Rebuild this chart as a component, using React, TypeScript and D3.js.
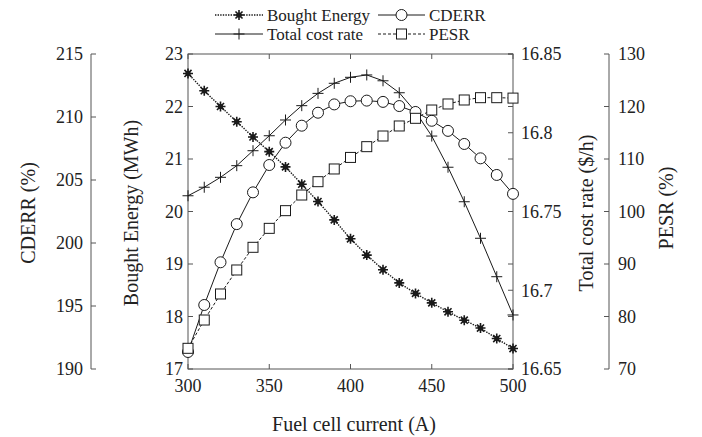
import React from 'react';
import * as d3 from 'd3';

const current = [300, 310, 320, 330, 340, 350, 360, 370, 380, 390, 400, 410, 420, 430, 440, 450, 460, 470, 480, 490, 500];
const boughtEnergy = [22.63, 22.3, 22.0, 21.71, 21.42, 21.14, 20.85, 20.52, 20.19, 19.84, 19.48, 19.17, 18.89, 18.64, 18.44, 18.26, 18.09, 17.93, 17.78, 17.58, 17.39];
const cderr = [191.35, 195.08, 198.47, 201.5, 204.02, 206.19, 207.96, 209.31, 210.34, 211.0, 211.25, 211.3, 211.2, 210.87, 210.4, 209.7, 208.9, 207.86, 206.72, 205.4, 203.9];
const costRate = [16.76, 16.7654, 16.7717, 16.7791, 16.7886, 16.7981, 16.8081, 16.8172, 16.825, 16.8314, 16.8352, 16.8367, 16.833, 16.8254, 16.8134, 16.7979, 16.7781, 16.7562, 16.733, 16.7086, 16.6843];
const pesr = [73.94, 79.33, 84.29, 88.86, 93.18, 96.79, 100.16, 103.14, 105.68, 108.1, 110.3, 112.35, 114.38, 116.29, 117.75, 119.33, 120.48, 121.24, 121.68, 121.68, 121.6];

const xTicks = [300, 350, 400, 450, 500];
const energyTicks = [17, 18, 19, 20, 21, 22, 23];
const cderrTicks = [190, 195, 200, 205, 210, 215];
const costTicks = [16.65, 16.7, 16.75, 16.8, 16.85];
const pesrTicks = [70, 80, 90, 100, 110, 120, 130];

const W = 702, H = 437;
const L = 188, R = 513, T = 54, B = 369;
const CDERR_X = 91, PESR_X = 609;
const TICK = 5;
const FONT = "'Liberation Serif', 'Times New Roman', serif";
const AX = '#555';
const TXT = '#222';
const LN = '#1a1a1a';
const TICK_FS = 18;

const x = d3.scaleLinear().domain([300, 500]).range([L, R]);
const yE = d3.scaleLinear().domain([17, 23]).range([B, T]);
const yC = d3.scaleLinear().domain([190, 215]).range([B, T]);
const yR = d3.scaleLinear().domain([16.65, 16.85]).range([B, T]);
const yP = d3.scaleLinear().domain([70, 130]).range([B, T]);

function Star({ cx, cy }: { cx: number; cy: number }) {
  const r = 5;
  const d = [0, 45, 90, 135].map((a) => {
    const rad = (a * Math.PI) / 180;
    const dx = Math.cos(rad) * r, dy = Math.sin(rad) * r;
    return `M${cx - dx},${cy - dy}L${cx + dx},${cy + dy}`;
  }).join('');
  return (
    <g>
      <path d={d} stroke={LN} strokeWidth={1.6} />
      <circle cx={cx} cy={cy} r={2.6} fill={LN} />
    </g>
  );
}
function Plus({ cx, cy }: { cx: number; cy: number }) {
  const r = 5.5;
  return <path d={`M${cx - r},${cy}L${cx + r},${cy}M${cx},${cy - r}L${cx},${cy + r}`} stroke={LN} strokeWidth={1} />;
}
function Circ({ cx, cy }: { cx: number; cy: number }) {
  return <circle cx={cx} cy={cy} r={5.5} fill="white" stroke={LN} strokeWidth={1} />;
}
function Sq({ cx, cy }: { cx: number; cy: number }) {
  return <rect x={cx - 5} y={cy - 5} width={10} height={10} fill="white" stroke={LN} strokeWidth={1} />;
}

const txtStyle = { fontFamily: FONT };

export default function App() {
  const lineE = d3.line<number>().x((_, i) => x(current[i])).y((d) => yE(d));
  const lineC = d3.line<number>().x((_, i) => x(current[i])).y((d) => yC(d));
  const lineR = d3.line<number>().x((_, i) => x(current[i])).y((d) => yR(d));
  const lineP = d3.line<number>().x((_, i) => x(current[i])).y((d) => yP(d));
  const fmtCost = (v: number) => String(+v.toFixed(2));

  const legendRows = [
    { y: 15, items: [
      { x0: 215, x1: 263, label: 'Bought Energy', kind: 'E' },
      { x0: 378, x1: 425, label: 'CDERR', kind: 'C' },
    ] },
    { y: 34, items: [
      { x0: 215, x1: 263, label: 'Total cost rate', kind: 'R' },
      { x0: 378, x1: 425, label: 'PESR', kind: 'P' },
    ] },
  ];

  const styleFor = (k: string) => {
    if (k === 'E') return { strokeWidth: 1.4, strokeDasharray: '1.4 1.2' };
    if (k === 'P') return { strokeWidth: 1, strokeDasharray: '3 2' };
    return { strokeWidth: 1, strokeDasharray: undefined };
  };
  const marker = (k: string, cx: number, cy: number, key?: string | number) => {
    if (k === 'E') return <Star key={key} cx={cx} cy={cy} />;
    if (k === 'C') return <Circ key={key} cx={cx} cy={cy} />;
    if (k === 'R') return <Plus key={key} cx={cx} cy={cy} />;
    return <Sq key={key} cx={cx} cy={cy} />;
  };

  return (
    <svg width={W} height={H} style={{ position: 'absolute', left: 0, top: 0, background: 'white', fontFamily: FONT }}>
      <rect x={0} y={0} width={W} height={H} fill="white" />
      {legendRows.map((row, ri) => (
        <g key={ri}>
          {row.items.map((it) => (
            <g key={it.label}>
              <line x1={it.x0} x2={it.x1} y1={row.y} y2={row.y} stroke={LN} {...styleFor(it.kind)} />
              {marker(it.kind, (it.x0 + it.x1) / 2, row.y)}
              <text x={it.x1 + 4} y={row.y} dy="0.35em" fontSize={17} fill={TXT} style={txtStyle}>{it.label}</text>
            </g>
          ))}
        </g>
      ))}

      <rect x={L} y={T} width={R - L} height={B - T} fill="none" stroke={AX} strokeWidth={1} />

      {xTicks.map((v) => (
        <g key={'x' + v}>
          <line x1={x(v)} x2={x(v)} y1={B} y2={B - TICK} stroke={AX} />
          <line x1={x(v)} x2={x(v)} y1={T} y2={T + TICK} stroke={AX} />
          <text x={x(v)} y={392} textAnchor="middle" fontSize={TICK_FS} fill={TXT} style={txtStyle}>{v}</text>
        </g>
      ))}
      <text x={354} y={431} textAnchor="middle" fontSize={20} fill={TXT} style={txtStyle}>Fuel cell current (A)</text>

      {energyTicks.map((v) => (
        <g key={'e' + v}>
          <line x1={L} x2={L + TICK} y1={yE(v)} y2={yE(v)} stroke={AX} />
          <line x1={R} x2={R - TICK} y1={yE(v)} y2={yE(v)} stroke={AX} />
          <text x={183} y={yE(v)} dy="0.35em" textAnchor="end" fontSize={TICK_FS} fill={TXT} style={txtStyle}>{v}</text>
        </g>
      ))}
      <text transform={`translate(138,213) rotate(-90)`} textAnchor="middle" fontSize={20} fill={TXT} style={txtStyle}>Bought Energy (MWh)</text>

      {costTicks.map((v) => (
        <g key={'r' + v}>
          <line x1={R} x2={R - TICK} y1={yR(v)} y2={yR(v)} stroke={AX} />
          <text x={521} y={yR(v)} dy="0.35em" textAnchor="start" fontSize={TICK_FS} fill={TXT} style={txtStyle}>{fmtCost(v)}</text>
        </g>
      ))}
      <text transform={`translate(593,213) rotate(-90)`} textAnchor="middle" fontSize={20} fill={TXT} style={txtStyle}>Total cost rate ($/h)</text>

      <line x1={CDERR_X} x2={CDERR_X} y1={T} y2={B} stroke={AX} />
      {cderrTicks.map((v) => (
        <g key={'c' + v}>
          <line x1={CDERR_X} x2={CDERR_X + TICK} y1={yC(v)} y2={yC(v)} stroke={AX} />
          <text x={83} y={yC(v)} dy="0.35em" textAnchor="end" fontSize={TICK_FS} fill={TXT} style={txtStyle}>{v}</text>
        </g>
      ))}
      <text transform={`translate(35,213) rotate(-90)`} textAnchor="middle" fontSize={20} fill={TXT} style={txtStyle}>CDERR (%)</text>

      <line x1={PESR_X} x2={PESR_X} y1={T} y2={B} stroke={AX} />
      {pesrTicks.map((v) => (
        <g key={'p' + v}>
          <line x1={PESR_X} x2={PESR_X - TICK} y1={yP(v)} y2={yP(v)} stroke={AX} />
          <text x={618} y={yP(v)} dy="0.35em" textAnchor="start" fontSize={TICK_FS} fill={TXT} style={txtStyle}>{v}</text>
        </g>
      ))}
      <text transform={`translate(673,208) rotate(-90)`} textAnchor="middle" fontSize={20} fill={TXT} style={txtStyle}>PESR (%)</text>

      <path d={lineR(costRate) || ''} fill="none" stroke={LN} {...styleFor('R')} />
      <path d={lineC(cderr) || ''} fill="none" stroke={LN} {...styleFor('C')} />
      <path d={lineP(pesr) || ''} fill="none" stroke={LN} {...styleFor('P')} />
      <path d={lineE(boughtEnergy) || ''} fill="none" stroke={LN} {...styleFor('E')} />

      {costRate.map((v, i) => marker('R', x(current[i]), yR(v), 'mr' + i))}
      {cderr.map((v, i) => marker('C', x(current[i]), yC(v), 'mc' + i))}
      {pesr.map((v, i) => marker('P', x(current[i]), yP(v), 'mp' + i))}
      {boughtEnergy.map((v, i) => marker('E', x(current[i]), yE(v), 'me' + i))}
    </svg>
  );
}
